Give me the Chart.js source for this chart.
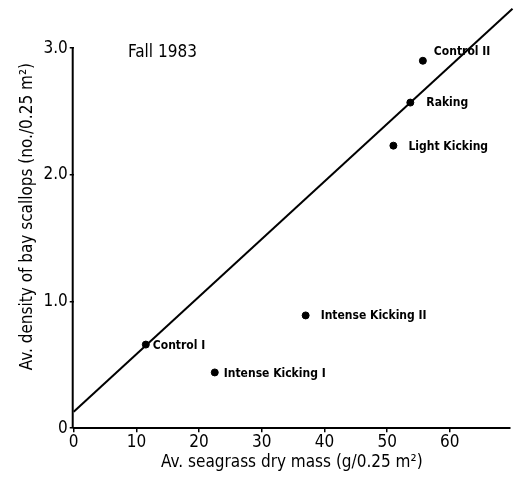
<!DOCTYPE html>
<html>
<head>
<meta charset="utf-8">
<script src="https://cdn.jsdelivr.net/npm/chart.js@4"></script>
<style>
  html, body { margin: 0; padding: 0; background: #fff; }
  #wrap { width: 515px; height: 477px; }
</style>
</head>
<body>
<div id="wrap"><canvas id="scallopChart"></canvas></div>
<script>
// treatments and their mean values
const treatments = ["Control II", "Raking", "Light Kicking", "Intense Kicking II", "Control I", "Intense Kicking I"];
const seagrassMass = [55.7, 53.7, 51.0, 37.0, 11.5, 22.5];
const scallopDensity = [2.90, 2.57, 2.23, 0.89, 0.66, 0.44];

// fitted regression line endpoints
const fitX = [0, 70];
const fitY = [0.13, 3.31];

const xTicks = [0, 10, 20, 30, 40, 50, 60];
const yTicks = [0, 1.0, 2.0, 3.0];

const labelOffsets = [[11, -9], [16, 0], [15, 1], [15, 0], [7, 1], [9, 1]];

const ctx = document.getElementById("scallopChart");

const extras = {
  id: "extras",
  afterDatasetsDraw(chart) {
    const c = chart.ctx;
    const x = chart.scales.x, y = chart.scales.y;
    // y axis line only up to 3.0
    c.save();
    c.strokeStyle = "#000";
    c.lineWidth = 2;
    c.beginPath();
    c.moveTo(x.getPixelForValue(0) - 1, y.getPixelForValue(0));
    c.lineTo(x.getPixelForValue(0) - 1, y.getPixelForValue(3.0));
    c.stroke();

    // point labels
    const meta = chart.getDatasetMeta(0);
    c.fillStyle = "#000";
    c.font = "bold 12px 'DejaVu Sans Condensed', 'DejaVu Sans', sans-serif";
    c.textBaseline = "middle";
    c.textAlign = "left";
    meta.data.forEach((pt, i) => {
      c.fillText(treatments[i], pt.x + labelOffsets[i][0], pt.y + labelOffsets[i][1]);
    });

    // panel title
    c.font = "17px 'DejaVu Sans Condensed', 'DejaVu Sans', sans-serif";
    c.fillText("Fall 1983", 128, 53);
    c.restore();
  }
};

new Chart(ctx, {
  type: "scatter",
  data: {
    datasets: [
      {
        label: "Treatments",
        data: seagrassMass.map((v, i) => ({ x: v, y: scallopDensity[i] })),
        backgroundColor: "#000",
        borderColor: "#000",
        pointRadius: 3.5
      },
      {
        type: "line",
        label: "Fit",
        data: fitX.map((v, i) => ({ x: v, y: fitY[i] })),
        borderColor: "#000",
        borderWidth: 2,
        pointRadius: 0,
        fill: false,
        clip: false
      }
    ]
  },
  plugins: [extras],
  options: {
    responsive: true,
    maintainAspectRatio: false,
    animation: false,
    layout: { padding: { top: 0, right: 0, bottom: 4, left: 17 } },
    plugins: {
      legend: { display: false },
      tooltip: { enabled: false }
    },
    scales: {
      x: {
        type: "linear",
        min: 0,
        max: 69.6,
        afterBuildTicks: s => { s.ticks = xTicks.map(v => ({ value: v })); },
        afterFit: s => { s.paddingRight = 0; },
        grid: { drawOnChartArea: false, color: "#000", tickLength: 4, lineWidth: 1.5 },
        border: { color: "#000", width: 2 },
        ticks: {
          color: "#000",
          padding: 0,
          maxRotation: 0,
          font: { family: "'DejaVu Sans Condensed', 'DejaVu Sans', sans-serif", size: 17 }
        },
        title: {
          display: true,
          text: "Av. seagrass dry mass (g/0.25 m²)",
          color: "#000",
          padding: { top: 0, bottom: 0 },
          font: { family: "'DejaVu Sans Condensed', 'DejaVu Sans', sans-serif", size: 17 }
        }
      },
      y: {
        type: "linear",
        min: 0,
        max: 3.34,
        afterBuildTicks: s => { s.ticks = yTicks.map(v => ({ value: v })); },
        afterFit: s => { s.paddingTop = 0; },
        grid: { drawOnChartArea: false, color: "#000", tickLength: 4, lineWidth: 1.5 },
        border: { display: false },
        ticks: {
          color: "#000",
          padding: 2,
          callback: v => v === 0 ? "0" : v.toFixed(1),
          font: { family: "'DejaVu Sans Condensed', 'DejaVu Sans', sans-serif", size: 17 }
        },
        title: {
          display: true,
          text: "Av. density of bay scallops (no./0.25 m²)",
          color: "#000",
          padding: { top: 0, bottom: 4 },
          font: { family: "'DejaVu Sans Condensed', 'DejaVu Sans', sans-serif", size: 17 }
        }
      }
    }
  }
});
</script>
</body>
</html>
